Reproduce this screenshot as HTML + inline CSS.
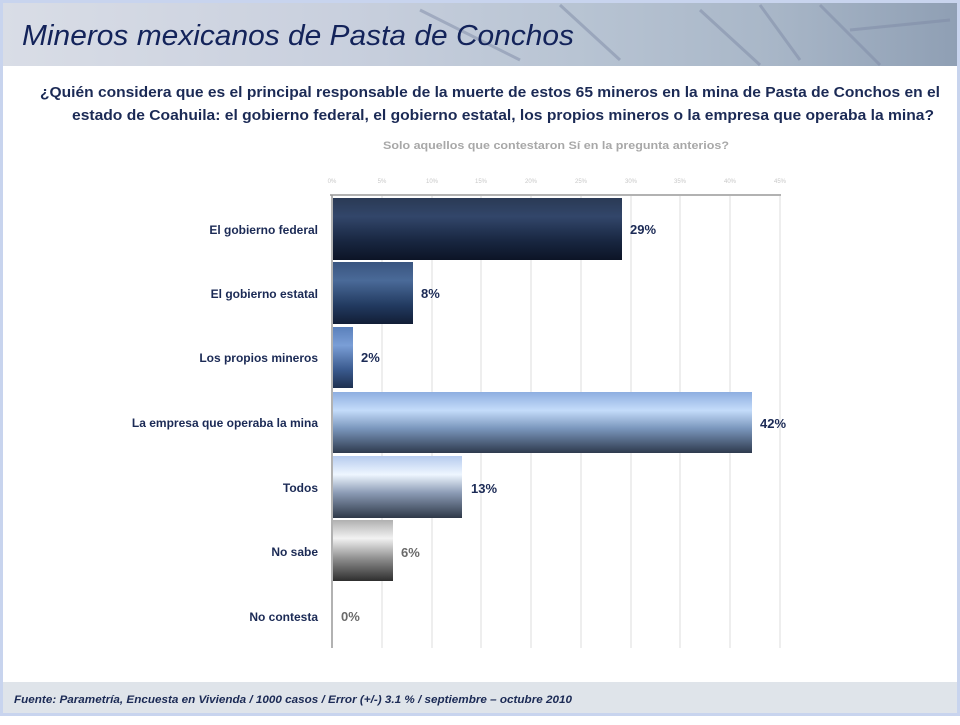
<!DOCTYPE html>
<html><head><meta charset="utf-8"><style>
body{margin:0;width:960px;height:720px;background:#fff;overflow:hidden;font-family:"Liberation Sans",sans-serif}
</style></head><body>
<svg width="960" height="720" viewBox="0 0 960 720" xmlns="http://www.w3.org/2000/svg" font-family="Liberation Sans, sans-serif">
<defs>
<linearGradient id="hdr" x1="0" y1="0" x2="1" y2="0">
<stop offset="0" stop-color="#d9dde6"/><stop offset="0.35" stop-color="#c9d0de"/><stop offset="0.6" stop-color="#b8c4d3"/><stop offset="0.8" stop-color="#a9b7c8"/><stop offset="1" stop-color="#8f9fb4"/></linearGradient>
<linearGradient id="g1" x1="0" y1="0" x2="0" y2="1"><stop offset="0" stop-color="#2a3a55"/><stop offset="0.3" stop-color="#32466a"/><stop offset="0.7" stop-color="#182640"/><stop offset="1" stop-color="#0c1426"/></linearGradient>
<linearGradient id="g2" x1="0" y1="0" x2="0" y2="1"><stop offset="0" stop-color="#3a5580"/><stop offset="0.3" stop-color="#4a6a98"/><stop offset="0.7" stop-color="#223a60"/><stop offset="1" stop-color="#121e36"/></linearGradient>
<linearGradient id="g3" x1="0" y1="0" x2="0" y2="1"><stop offset="0" stop-color="#5a80bb"/><stop offset="0.3" stop-color="#7a9ed6"/><stop offset="0.7" stop-color="#3a5a8e"/><stop offset="1" stop-color="#1e3050"/></linearGradient>
<linearGradient id="g4" x1="0" y1="0" x2="0" y2="1"><stop offset="0" stop-color="#8eaee0"/><stop offset="0.3" stop-color="#c4dcfa"/><stop offset="0.6" stop-color="#7a96bc"/><stop offset="1" stop-color="#2e3a4e"/></linearGradient>
<linearGradient id="g5" x1="0" y1="0" x2="0" y2="1"><stop offset="0" stop-color="#b6cbee"/><stop offset="0.3" stop-color="#eef6ff"/><stop offset="0.6" stop-color="#8a9ab4"/><stop offset="1" stop-color="#2e3848"/></linearGradient>
<linearGradient id="g6" x1="0" y1="0" x2="0" y2="1"><stop offset="0" stop-color="#b0b0b0"/><stop offset="0.3" stop-color="#f2f2f2"/><stop offset="0.65" stop-color="#8a8a8a"/><stop offset="1" stop-color="#2e2e2e"/></linearGradient>
</defs>
<rect x="0" y="0" width="960" height="720" fill="#fff"/>
<rect x="1.5" y="1.5" width="957" height="713" fill="none" stroke="#c8d4ee" stroke-width="3"/>
<rect x="3" y="3" width="954" height="63" fill="url(#hdr)"/>
<path d="M420 10 L520 60 M560 5 L620 60 M700 10 L760 65 M760 5 L800 60 M820 5 L880 65 M850 30 L950 20" stroke="#7d8aa6" stroke-width="3" fill="none" opacity="0.5"/>
<text x="22" y="45" font-size="29" font-style="italic" fill="#13235a" textLength="552" lengthAdjust="spacingAndGlyphs">Mineros mexicanos de Pasta de Conchos</text>
<text x="40" y="97" font-size="14.5" font-weight="bold" fill="#1b2a55" textLength="900" lengthAdjust="spacingAndGlyphs">¿Quién considera que es el principal responsable de la muerte de estos 65 mineros en la mina de Pasta de Conchos en el</text>
<text x="72" y="120" font-size="14.5" font-weight="bold" fill="#1b2a55" textLength="862" lengthAdjust="spacingAndGlyphs">estado de Coahuila: el gobierno federal, el gobierno estatal, los propios mineros o la empresa que operaba la mina?</text>
<text x="383" y="149" font-size="11" font-weight="bold" fill="#a8a8a8" textLength="346" lengthAdjust="spacingAndGlyphs">Solo aquellos que contestaron Sí en la pregunta anterios?</text>
<g stroke="#eeeeee" stroke-width="2">
<line x1="382" y1="196" x2="382" y2="648"/><line x1="432" y1="196" x2="432" y2="648"/><line x1="481" y1="196" x2="481" y2="648"/><line x1="531" y1="196" x2="531" y2="648"/><line x1="581" y1="196" x2="581" y2="648"/><line x1="631" y1="196" x2="631" y2="648"/><line x1="680" y1="196" x2="680" y2="648"/><line x1="730" y1="196" x2="730" y2="648"/><line x1="780" y1="196" x2="780" y2="648"/>
</g>
<g font-size="6" fill="#c8c8c8" text-anchor="middle">
<text x="332" y="183">0%</text><text x="382" y="183">5%</text><text x="432" y="183">10%</text><text x="481" y="183">15%</text><text x="531" y="183">20%</text><text x="581" y="183">25%</text><text x="631" y="183">30%</text><text x="680" y="183">35%</text><text x="730" y="183">40%</text><text x="780" y="183">45%</text>
</g>
<line x1="330" y1="195" x2="781" y2="195" stroke="#999" stroke-width="1.5"/>
<line x1="332" y1="195" x2="332" y2="648" stroke="#999" stroke-width="1.5"/>
<rect x="333" y="198" width="289" height="62" fill="url(#g1)"/>
<rect x="333" y="262" width="80" height="62" fill="url(#g2)"/>
<rect x="333" y="327" width="20" height="61" fill="url(#g3)"/>
<rect x="333" y="392" width="419" height="61" fill="url(#g4)"/>
<rect x="333" y="456" width="129" height="62" fill="url(#g5)"/>
<rect x="333" y="520" width="60" height="61" fill="url(#g6)"/>
<g font-size="12" font-weight="bold" fill="#1b2a55" text-anchor="end">
<text x="318" y="234">El gobierno federal</text>
<text x="318" y="298">El gobierno estatal</text>
<text x="318" y="362">Los propios mineros</text>
<text x="318" y="427">La empresa que operaba la mina</text>
<text x="318" y="492">Todos</text>
<text x="318" y="556">No sabe</text>
<text x="318" y="621">No contesta</text>
</g>
<g font-size="13" font-weight="bold" fill="#1b2a55">
<text x="630" y="234">29%</text>
<text x="421" y="298">8%</text>
<text x="361" y="362">2%</text>
<text x="760" y="428">42%</text>
<text x="471" y="493">13%</text>
<text x="401" y="557" fill="#6a6a6a">6%</text>
<text x="341" y="621" fill="#6a6a6a">0%</text>
</g>
<rect x="3" y="682" width="954" height="31" fill="#dfe4ea"/>
<text x="14" y="703" font-size="11" font-style="italic" font-weight="bold" fill="#1b2a55" textLength="558" lengthAdjust="spacingAndGlyphs">Fuente: Parametría, Encuesta en Vivienda / 1000 casos / Error (+/-) 3.1 % / septiembre – octubre 2010</text>
</svg>
</body></html>
